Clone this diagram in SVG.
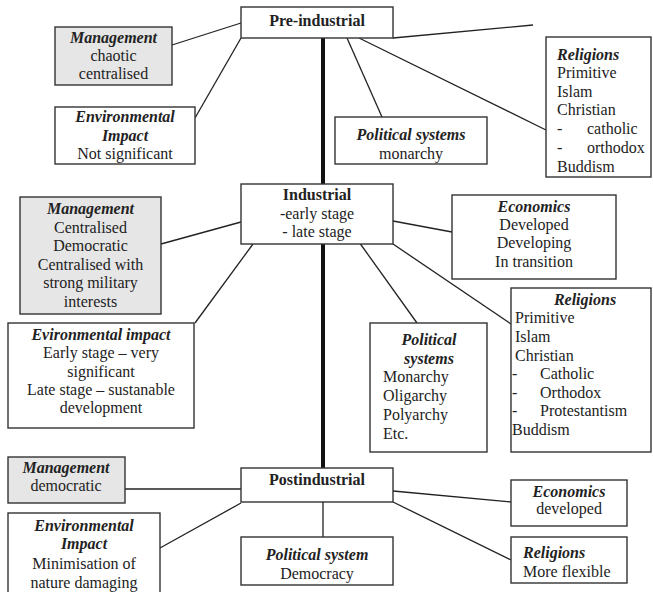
<svg xmlns="http://www.w3.org/2000/svg" width="653" height="592" viewBox="0 0 653 592">
<style>
rect.b{fill:#fff;stroke:#333;stroke-width:1.4}
rect.g{fill:#e6e6e6;stroke:#333;stroke-width:1.4}
text{font-family:"Liberation Serif","Times New Roman",serif;font-size:16px;fill:#222}
.c{text-anchor:middle}
.h{font-weight:bold}
.hi{font-weight:bold;font-style:italic}
.ln{stroke:#222;stroke-width:1.3;fill:none}
.axis{stroke:#111;stroke-width:4;fill:none}
</style>
<rect width="653" height="592" fill="#fff"/>
<g id="connectors">
<line class="axis" x1="323" y1="38" x2="323" y2="184"/>
<line class="axis" x1="323" y1="244" x2="323" y2="468"/>
<line class="ln" x1="172" y1="45" x2="241" y2="23"/>
<line class="ln" x1="195" y1="118" x2="241" y2="38"/>
<line class="ln" x1="393" y1="38" x2="533" y2="25"/>
<line class="ln" x1="359" y1="38" x2="546" y2="130"/>
<line class="ln" x1="347" y1="38" x2="382" y2="117"/>
<line class="ln" x1="161" y1="244" x2="241" y2="222"/>
<line class="ln" x1="253" y1="244" x2="195" y2="323"/>
<line class="ln" x1="393" y1="221" x2="452" y2="232"/>
<line class="ln" x1="393" y1="244" x2="511" y2="324"/>
<line class="ln" x1="359" y1="242" x2="417" y2="323"/>
<line class="ln" x1="125" y1="489" x2="241" y2="489"/>
<line class="ln" x1="160" y1="548" x2="241" y2="503"/>
<line class="ln" x1="323" y1="502" x2="323" y2="537"/>
<line class="ln" x1="393" y1="491" x2="511" y2="502"/>
<line class="ln" x1="393" y1="502" x2="511" y2="560"/>
</g>
<g id="pre-industrial">
<rect class="b" x="241" y="7" width="152" height="31"/>
<text class="c h" x="317" y="26">Pre-industrial</text>
</g>
<g id="pre-management">
<rect class="g" x="55" y="27" width="117" height="58"/>
<text class="c hi" x="113.5" y="43">Management</text>
<text class="c" x="113.5" y="61">chaotic</text>
<text class="c" x="113.5" y="79">centralised</text>
</g>
<g id="pre-environment">
<rect class="b" x="55" y="107" width="140" height="57"/>
<text class="c hi" x="125" y="122">Environmental</text>
<text class="c hi" x="125" y="141">Impact</text>
<text class="c" x="125" y="159">Not significant</text>
</g>
<g id="pre-political">
<rect class="b" x="335" y="117" width="152" height="47"/>
<text class="c hi" x="411" y="140">Political systems</text>
<text class="c" x="411" y="159">monarchy</text>
</g>
<g id="pre-religions">
<rect class="b" x="546" y="37" width="105" height="140"/>
<text class="hi" x="557" y="60">Religions</text>
<text x="557" y="78">Primitive</text>
<text x="557" y="97">Islam</text>
<text x="557" y="115">Christian</text>
<text x="557" y="134">-</text><text x="587" y="134">catholic</text>
<text x="557" y="153">-</text><text x="587" y="153">orthodox</text>
<text x="557" y="172">Buddism</text>
</g>
<g id="industrial">
<rect class="b" x="241" y="184" width="152" height="60"/>
<text class="c h" x="317" y="200">Industrial</text>
<text class="c" x="317" y="219">-early stage</text>
<text class="c" x="317" y="237">- late stage</text>
</g>
<g id="ind-management">
<rect class="g" x="20" y="197" width="141" height="117"/>
<text class="c hi" x="90.5" y="214">Management</text>
<text class="c" x="90.5" y="232.5">Centralised</text>
<text class="c" x="90.5" y="251">Democratic</text>
<text class="c" x="90.5" y="269.5">Centralised with</text>
<text class="c" x="90.5" y="288">strong military</text>
<text class="c" x="90.5" y="306.5">interests</text>
</g>
<g id="ind-environment">
<rect class="b" x="8" y="323" width="186" height="105"/>
<text class="c hi" x="101" y="340">Evironmental impact</text>
<text class="c" x="101" y="358">Early stage – very</text>
<text class="c" x="101" y="377">significant</text>
<text class="c" x="101" y="395">Late stage – sustanable</text>
<text class="c" x="101" y="413">development</text>
</g>
<g id="ind-economics">
<rect class="b" x="452" y="195" width="164" height="84"/>
<text class="c hi" x="534" y="212">Economics</text>
<text class="c" x="534" y="230">Developed</text>
<text class="c" x="534" y="248">Developing</text>
<text class="c" x="534" y="267">In transition</text>
</g>
<g id="ind-political">
<rect class="b" x="370" y="323" width="117" height="129"/>
<text class="c hi" x="429" y="345">Political</text>
<text class="c hi" x="429" y="364">systems</text>
<text x="383" y="382">Monarchy</text>
<text x="383" y="401">Oligarchy</text>
<text x="383" y="420">Polyarchy</text>
<text x="383" y="439">Etc.</text>
</g>
<g id="ind-religions">
<rect class="b" x="511" y="288" width="140" height="164"/>
<text class="c hi" x="585" y="305">Religions</text>
<text x="515" y="323">Primitive</text>
<text x="515" y="342">Islam</text>
<text x="515" y="361">Christian</text>
<text x="512" y="379">-</text><text x="540" y="379">Catholic</text>
<text x="512" y="398">-</text><text x="540" y="398">Orthodox</text>
<text x="512" y="416">-</text><text x="540" y="416">Protestantism</text>
<text x="512" y="435">Buddism</text>
</g>
<g id="postindustrial">
<rect class="b" x="241" y="468" width="152" height="34"/>
<text class="c h" x="317" y="485">Postindustrial</text>
</g>
<g id="post-management">
<rect class="g" x="8" y="457" width="117" height="46"/>
<text class="c hi" x="66" y="473">Management</text>
<text class="c" x="66" y="491">democratic</text>
</g>
<g id="post-environment">
<rect class="b" x="8" y="513" width="152" height="90"/>
<text class="c hi" x="84" y="531">Environmental</text>
<text class="c hi" x="84" y="549">Impact</text>
<text class="c" x="84" y="569">Minimisation of</text>
<text class="c" x="84" y="588">nature damaging</text>
</g>
<g id="post-political">
<rect class="b" x="241" y="537" width="152" height="48"/>
<text class="c hi" x="317" y="560">Political system</text>
<text class="c" x="317" y="579">Democracy</text>
</g>
<g id="post-economics">
<rect class="b" x="511" y="480" width="116" height="46"/>
<text class="c hi" x="569" y="497">Economics</text>
<text class="c" x="569" y="514">developed</text>
</g>
<g id="post-religions">
<rect class="b" x="511" y="537" width="116" height="46"/>
<text class="hi" x="523" y="558">Religions</text>
<text x="523" y="577">More flexible</text>
</g>
</svg>
